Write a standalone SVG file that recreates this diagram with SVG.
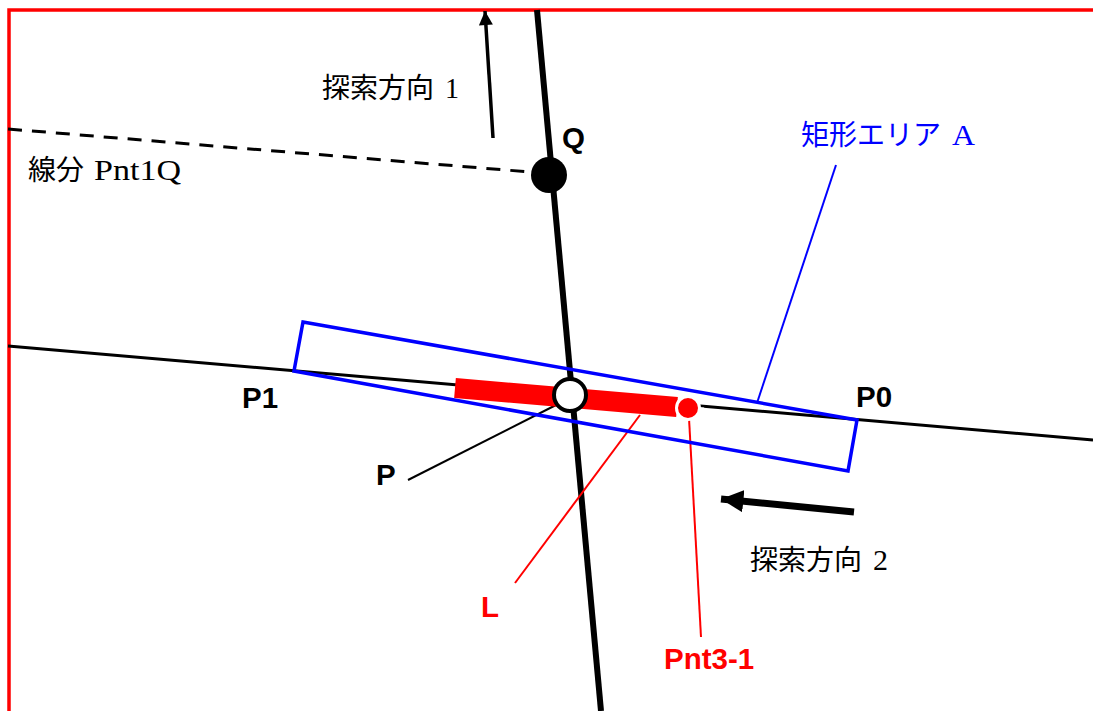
<svg xmlns="http://www.w3.org/2000/svg" width="1093" height="711" viewBox="0 0 1093 711">
<style>
.cjk{font-family:"Liberation Serif","Noto Sans CJK JP",serif;font-size:28px;}
.lat{font-family:"Liberation Serif",serif;font-size:29px;}
.lbl{font-family:"Liberation Sans",Arial,sans-serif;font-size:29.5px;font-weight:bold;}
</style>
<defs>
<marker id="ah1" viewBox="0 0 10 10" refX="10" refY="5" markerWidth="4.3" markerHeight="4" orient="auto" markerUnits="strokeWidth"><path d="M0,0L10,5L0,10z" fill="#000"/></marker>
<marker id="ah2" viewBox="0 0 10 10" refX="10" refY="5" markerWidth="3.2" markerHeight="3.3" orient="auto" markerUnits="strokeWidth"><path d="M0,0L10,5L0,10z" fill="#000"/></marker>
</defs>
<rect x="0" y="0" width="1093" height="711" fill="#fff"/>
<rect id="frame" x="9" y="10" width="1100" height="720" fill="none" stroke="#f00" stroke-width="3.5"/>
<g id="connectors" fill="none">
<line x1="8" y1="346" x2="1093" y2="440" stroke="#000" stroke-width="3"/>
<line x1="8" y1="129" x2="530" y2="172" stroke="#000" stroke-width="3" stroke-dasharray="14,10"/>
<line x1="537" y1="10" x2="601" y2="711" stroke="#000" stroke-width="6"/>
<line x1="493" y1="138" x2="485" y2="11" stroke="#000" stroke-width="3.5" marker-end="url(#ah1)"/>
<line x1="854" y1="512" x2="721" y2="499" stroke="#000" stroke-width="7" marker-end="url(#ah2)"/>
<line x1="836" y1="165" x2="757" y2="403" stroke="#00f" stroke-width="2"/>
<line x1="408" y1="480" x2="556" y2="405" stroke="#000" stroke-width="2"/>
<line x1="515" y1="583" x2="640" y2="415" stroke="#f00" stroke-width="2"/>
<line x1="689" y1="418" x2="701" y2="637" stroke="#f00" stroke-width="2"/>
</g>
<g id="areaA"><polygon points="303,322 857,420 848,471 294,371" fill="none" stroke="#00f" stroke-width="3.5"/></g>
<g id="segL"><line x1="455" y1="388" x2="677" y2="407" stroke="#f00" stroke-width="20"/><line x1="690" y1="409" x2="704" y2="410" stroke="#fff" stroke-width="5"/></g>
<g id="Q"><circle cx="549" cy="175" r="18" fill="#000"/><text class="lbl" x="562" y="148">Q</text></g>
<g id="P"><circle cx="570" cy="395" r="16" fill="#fff" stroke="#000" stroke-width="4"/><text class="lbl" x="376" y="485">P</text></g>
<g id="Pnt3"><circle cx="688" cy="408" r="11.5" fill="#f00" stroke="#fff" stroke-width="3"/><text class="lbl" x="664" y="669" fill="#f00">Pnt3-1</text></g>
<g id="P1"><text class="lbl" x="242" y="408">P1</text></g>
<g id="P0"><text class="lbl" x="856" y="407">P0</text></g>
<g id="Llabel"><text class="lbl" x="481" y="617" fill="#f00">L</text></g>
<g id="dir1"><text class="cjk" x="322" y="98">探索方向</text><text class="lat" x="445" y="98" textLength="14" lengthAdjust="spacingAndGlyphs">1</text></g>
<g id="dir2"><text class="cjk" x="750" y="570">探索方向</text><text class="lat" x="873" y="570" textLength="15" lengthAdjust="spacingAndGlyphs">2</text></g>
<g id="seg"><text class="cjk" x="28" y="180">線分</text><text class="lat" x="94" y="180" textLength="87" lengthAdjust="spacingAndGlyphs">Pnt1Q</text></g>
<g id="areaLabel" fill="#00f"><text class="cjk" x="801" y="145">矩形エリア</text><text class="lat" x="952" y="145" textLength="23" lengthAdjust="spacingAndGlyphs">A</text></g>
</svg>
